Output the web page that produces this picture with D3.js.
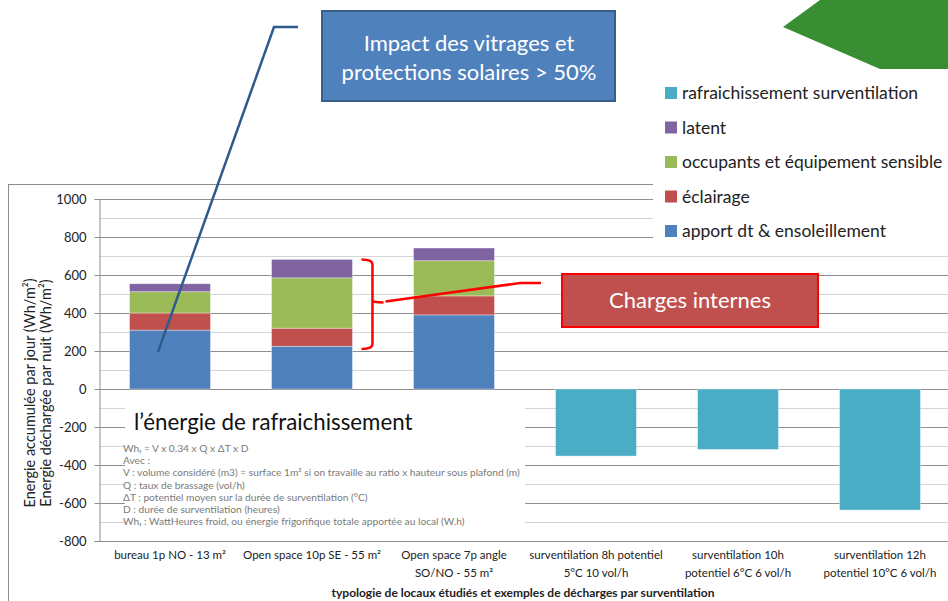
<!DOCTYPE html>
<html>
<head>
<meta charset="utf-8">
<script src="https://cdn.jsdelivr.net/npm/d3@7"></script>
<style>
body { margin: 0; background: #fff; }
text { font-family: Lato, "Open Sans", sans-serif; }
</style>
</head>
<body>
<svg id="chart" width="948" height="601"></svg>
<script>
// data
var categories = [
    ['bureau 1p NO - 13 m²'],
    ['Open space 10p SE - 55 m²'],
    ['Open space 7p angle', 'SO/NO - 55 m²'],
    ['surventilation 8h potentiel', '5°C 10 vol/h'],
    ['surventilation 10h', 'potentiel 6°C 6 vol/h'],
    ['surventilation 12h', 'potentiel 10°C 6 vol/h']
];
var apport = [310, 225, 390, 0, 0, 0];
var eclairage = [90, 95, 100, 0, 0, 0];
var occupants = [112, 265, 185, 0, 0, 0];
var latent = [42, 97, 67, 0, 0, 0];
var rafraichissement = [0, 0, 0, -353, -318, -637];
var yTicks = [1000, 800, 600, 400, 200, 0, -200, -400, -600, -800];
var seriesNames = ['apport dt & ensoleillement', 'éclairage', 'occupants et équipement sensible', 'latent', 'rafraichissement surventilation'];
var colors = ['#4f81bd', '#c0504d', '#9bbb59', '#8064a2', '#4bacc6'];
// [prefix, subscript, rest]
var formula = [
    ['Wh', 'f', ' = V x 0.34 x Q x ΔT x D'],
    ['', '', 'Avec :'],
    ['', '', 'V : volume considéré (m3) = surface 1m² si on travaille au ratio x hauteur sous plafond (m)'],
    ['', '', 'Q : taux de brassage (vol/h)'],
    ['', '', 'ΔT : potentiel moyen sur la durée de surventilation (°C)'],
    ['', '', 'D : durée de surventilation (heures)'],
    ['Wh', 'f', ' : WattHeures froid, ou énergie frigorifique totale apportée au local (W.h)']
];

var svg = d3.select('#chart');
var pLeft = 99, pRight = 951, pTop = 199, pBottom = 541;

var x = d3.scaleBand().domain(d3.range(categories.length)).range([pLeft, pRight]).paddingInner(0.43).paddingOuter(0.215);
var y = d3.scaleLinear().domain([-800, 1000]).range([pBottom, pTop]);

// outer chart frame
svg.append('rect').attr('x', 8.5).attr('y', 184.5).attr('width', 960).attr('height', 440)
    .attr('fill', '#fff').attr('stroke', '#8c8c8c');

// green shape top right
svg.append('path').attr('d', 'M783,27 L820,0 L948,0 L948,69 L880,69 Z').attr('fill', '#398d33');

// gridlines, minor every 100, major every 200
var grid = svg.append('g');
grid.selectAll('line.minor').data(d3.range(-700, 1000, 200)).join('line')
    .attr('class', 'minor')
    .attr('x1', pLeft).attr('x2', 948).attr('y1', d => Math.round(y(d)) + 0.5).attr('y2', d => Math.round(y(d)) + 0.5)
    .attr('stroke', '#d4d4d4');
grid.selectAll('line.major').data(yTicks).join('line')
    .attr('class', 'major')
    .attr('x1', pLeft).attr('x2', 948).attr('y1', d => Math.round(y(d)) + 0.5).attr('y2', d => Math.round(y(d)) + 0.5)
    .attr('stroke', '#8e8e8e');

// stacked positive bars
var rows = categories.map(function (c, i) {
    return { i: i, a: apport[i], e: eclairage[i], o: occupants[i], l: latent[i] };
});
var stack = d3.stack().keys(['a', 'e', 'o', 'l'])(rows);
svg.append('g').selectAll('g').data(stack).join('g')
    .attr('fill', (d, k) => colors[k])
    .selectAll('rect').data(d => d.filter(p => p[1] > p[0])).join('rect')
    .attr('x', d => x(d.data.i)).attr('width', x.bandwidth())
    .attr('y', d => y(d[1])).attr('height', d => y(d[0]) - y(d[1]))
    .attr('stroke', 'rgba(255,255,255,0.45)').attr('stroke-width', 0.8);

// negative bars
svg.append('g').selectAll('rect').data(rafraichissement.map((v, i) => ({ i: i, v: v })).filter(d => d.v < 0)).join('rect')
    .attr('x', d => x(d.i)).attr('width', x.bandwidth())
    .attr('y', y(0)).attr('height', d => y(d.v) - y(0))
    .attr('fill', colors[4]).attr('stroke', 'rgba(255,255,255,0.45)').attr('stroke-width', 0.8);

// y axis
var yAxis = svg.append('g').attr('transform', 'translate(' + (pLeft + 0.5) + ',0)')
    .call(d3.axisLeft(y).tickValues(yTicks).tickSize(5).tickPadding(8).tickFormat(d => String(d)));
yAxis.select('.domain').attr('stroke', '#8e8e8e');
yAxis.selectAll('.tick line').attr('stroke', '#8e8e8e');
yAxis.selectAll('.tick text').attr('font-size', 13).attr('fill', '#222').attr('font-family', 'Lato');

// y title
var yt = svg.append('text').attr('transform', 'translate(35,' + 393 + ') rotate(-90)')
    .attr('text-anchor', 'middle').attr('font-size', 14.5).attr('fill', '#222');
yt.append('tspan').attr('x', 0).attr('dy', 0).text('Energie accumulée par jour (Wh/m²)');
yt.append('tspan').attr('x', 0).attr('dy', 16).text('Energie déchargée par nuit (Wh/m²)');

// category labels
var cl = svg.append('g').selectAll('text').data(categories).join('text')
    .attr('x', (d, i) => x(i) + x.bandwidth() / 2).attr('y', 559)
    .attr('text-anchor', 'middle').attr('font-size', 11.5).attr('fill', '#222');
cl.selectAll('tspan').data(d => d).join('tspan')
    .attr('x', function () { return d3.select(this.parentNode).attr('x'); })
    .attr('dy', (d, j) => j ? 18 : 0).text(d => d);

svg.append('text').attr('x', 523).attr('y', 597).attr('text-anchor', 'middle')
    .attr('font-size', 12).attr('font-weight', 'bold').attr('fill', '#222')
    .text('typologie de locaux étudiés et exemples de décharges par surventilation');

// legend (white background over grid)
svg.append('rect').attr('x', 653).attr('y', 76).attr('width', 295).attr('height', 172).attr('fill', '#fff');
var leg = svg.append('g').selectAll('g').data([4, 3, 2, 1, 0]).join('g')
    .attr('transform', (d, j) => 'translate(665,' + (93 + j * 34.5) + ')');
leg.append('rect').attr('x', 0).attr('y', -6).attr('width', 12).attr('height', 12).attr('fill', d => colors[d]);
leg.append('text').attr('x', 17).attr('y', 6).attr('font-size', 17.5).attr('fill', '#222').text(d => seriesNames[d]);

// formula box
svg.append('rect').attr('x', 125).attr('y', 392).attr('width', 400).attr('height', 138).attr('fill', '#fff');
svg.append('text').attr('x', 134).attr('y', 430).attr('font-size', 22.3).attr('fill', '#111')
    .text('l’énergie de rafraichissement');
var fl = svg.append('g').selectAll('text').data(formula).join('text')
    .attr('x', 123).attr('y', (d, i) => 452 + i * 12.2)
    .attr('font-size', 10.2).attr('fill', '#7a7a7a').attr('font-family', '"Liberation Sans", Arial, sans-serif');
fl.append('tspan').text(d => d[0]);
fl.append('tspan').attr('font-size', 6).attr('dy', 2).text(d => d[1]);
fl.append('tspan').attr('dy', d => d[1] ? -2 : 0).text(d => d[2]);

// blue annotation
svg.append('path').attr('d', 'M298,27 L274,27 L' + (x(0) + x.bandwidth() / 2 - 12) + ',' + y(195))
    .attr('fill', 'none').attr('stroke', '#2f5a8c').attr('stroke-width', 2.5);
svg.append('rect').attr('x', 322).attr('y', 11).attr('width', 293).attr('height', 90)
    .attr('fill', '#4f81bd').attr('stroke', '#385d8a').attr('stroke-width', 2);
svg.append('text').attr('x', 469).attr('y', 51).attr('text-anchor', 'middle').attr('font-size', 22).attr('fill', '#fff')
    .text('Impact des vitrages et');
svg.append('text').attr('x', 469).attr('y', 80).attr('text-anchor', 'middle').attr('font-size', 22).attr('fill', '#fff')
    .text('protections solaires > 50%');

// red bracket and line
var bx = x(1) + x.bandwidth() + 9, bt = y(682), bb = y(210), bm = y(455);
svg.append('path')
    .attr('d', 'M' + bx + ',' + bt + ' Q' + (bx + 11) + ',' + bt + ' ' + (bx + 11) + ',' + (bt + 5) +
        ' L' + (bx + 11) + ',' + (bm - 2) + ' Q' + (bx + 11) + ',' + bm + ' ' + (bx + 22) + ',' + bm +
        ' M' + (bx + 11) + ',' + (bm - 2) + ' L' + (bx + 11) + ',' + (bb - 5) +
        ' Q' + (bx + 11) + ',' + bb + ' ' + bx + ',' + bb)
    .attr('fill', 'none').attr('stroke', '#ff0000').attr('stroke-width', 2.5);
svg.append('path').attr('d', 'M' + (bx + 24) + ',' + (bm - 1) + ' L520,283 L541,283')
    .attr('fill', 'none').attr('stroke', '#ff0000').attr('stroke-width', 2.5);
svg.append('rect').attr('x', 562).attr('y', 274).attr('width', 256).attr('height', 53)
    .attr('fill', '#c0504d').attr('stroke', '#ff0000').attr('stroke-width', 2);
svg.append('text').attr('x', 690).attr('y', 308).attr('text-anchor', 'middle').attr('font-size', 22).attr('fill', '#fff')
    .text('Charges internes');
</script>
</body>
</html>
